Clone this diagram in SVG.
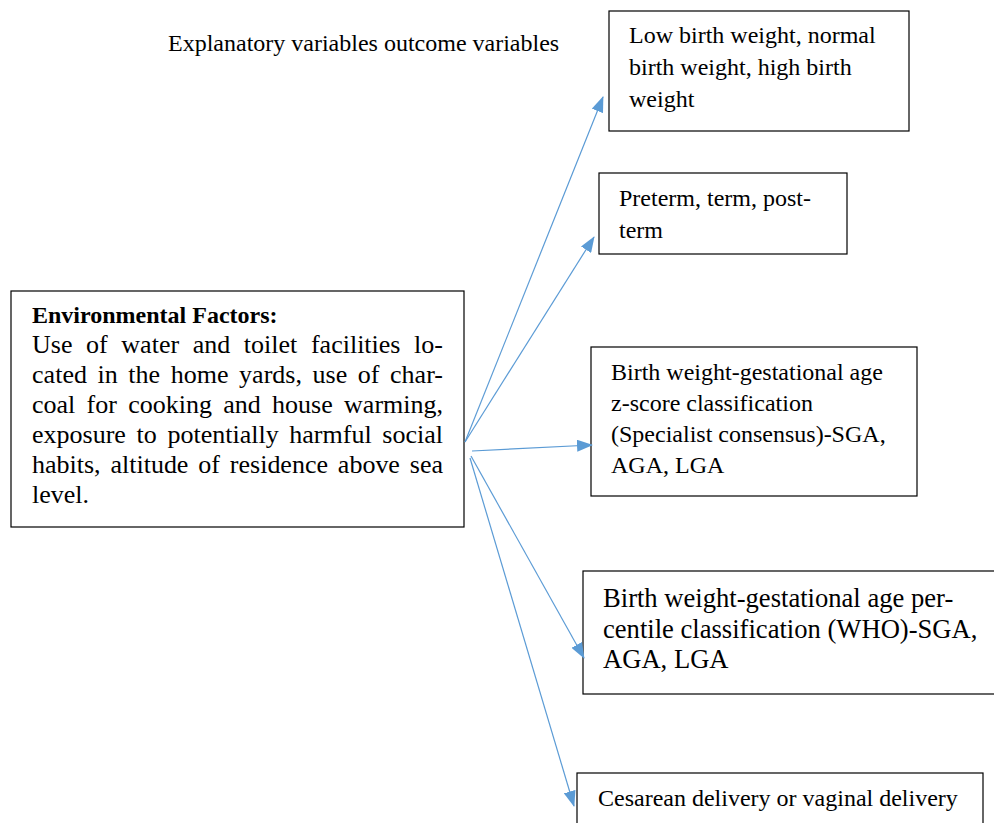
<svg xmlns="http://www.w3.org/2000/svg" width="994" height="823" viewBox="0 0 994 823">
<style>
.box{fill:#fff;stroke:#000;stroke-width:1.2}
text{font-family:"Liberation Serif","Times New Roman",serif;fill:#000}
.t24{font-size:24px}
.t26{font-size:26.6px}
.body{font-size:26px}
.conn line{stroke:#5B9BD5;stroke-width:1.2}
</style>
<defs>
<marker id="ah" markerWidth="16" markerHeight="12" refX="15" refY="6" orient="auto" markerUnits="userSpaceOnUse">
<path d="M0,0 L16,6 L0,12 z" fill="#5B9BD5"/>
</marker>
</defs>
<rect width="994" height="823" fill="#fff"/>
<text class="t24" x="168" y="51">Explanatory variables outcome variables</text>
<g id="env">
<rect class="box" x="11" y="291" width="453" height="236"/>
<text class="t24" x="32" y="323" font-weight="bold">Environmental Factors:</text>
<text class="body" x="32" y="353" word-spacing="7.1" textLength="411" lengthAdjust="spacing">Use of water and toilet facilities lo-</text>
<text class="body" x="32" y="383" word-spacing="4.0" textLength="411" lengthAdjust="spacing">cated in the home yards, use of char-</text>
<text class="body" x="32" y="413" word-spacing="4.8" textLength="411" lengthAdjust="spacing">coal for cooking and house warming,</text>
<text class="body" x="32" y="443" word-spacing="4.2" textLength="411" lengthAdjust="spacing">exposure to potentially harmful social</text>
<text class="body" x="32" y="473" word-spacing="3.4" textLength="411" lengthAdjust="spacing">habits, altitude of residence above sea</text>
<text class="body" x="32" y="503">level.</text>
</g>
<g id="bw">
<rect class="box" x="609" y="11" width="300" height="120"/>
<text class="t24" x="629" y="43">Low birth weight, normal</text>
<text class="t24" x="629" y="75">birth weight, high birth</text>
<text class="t24" x="629" y="107">weight</text>
</g>
<g id="ga">
<rect class="box" x="599" y="173" width="248" height="81"/>
<text class="t24" x="619" y="206">Preterm, term, post-</text>
<text class="t24" x="619" y="238">term</text>
</g>
<g id="zscore">
<rect class="box" x="591" y="347" width="326" height="149"/>
<text class="t24" x="611" y="380">Birth weight-gestational age</text>
<text class="t24" x="611" y="411">z-score classification</text>
<text class="t24" x="611" y="442">(Specialist consensus)-SGA,</text>
<text class="t24" x="611" y="473">AGA, LGA</text>
</g>
<g id="pct">
<rect class="box" x="583" y="571" width="420" height="123"/>
<text class="t26" x="603" y="607">Birth weight-gestational age per-</text>
<text class="t26" x="603" y="638">centile classification (WHO)-SGA,</text>
<text class="t26" x="603" y="668">AGA, LGA</text>
</g>
<g id="delivery">
<rect class="box" x="577" y="773" width="406" height="60"/>
<text class="t24" x="598" y="806">Cesarean delivery or vaginal delivery</text>
</g>
<g class="conn">
<line x1="465" y1="442" x2="603" y2="97" marker-end="url(#ah)"/>
<line x1="465" y1="442" x2="594" y2="237" marker-end="url(#ah)"/>
<line x1="472" y1="451" x2="592" y2="445" marker-end="url(#ah)"/>
<line x1="471" y1="456" x2="584" y2="658" marker-end="url(#ah)"/>
<line x1="470" y1="458" x2="574" y2="806" marker-end="url(#ah)"/>
</g>
</svg>
